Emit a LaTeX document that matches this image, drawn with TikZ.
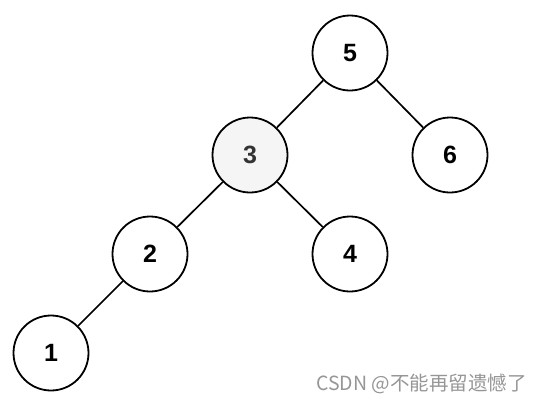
\documentclass[tikz,border=0pt]{standalone}
\usepackage{fontspec}
\setmainfont{Liberation Sans}
\newfontfamily\cjk{Noto Sans CJK SC}
\begin{document}
\begin{tikzpicture}[x=1pt,y=-1pt,
  tnode/.style={circle,draw=black,line width=1.8pt,fill=white,minimum size=75pt,inner sep=0pt,font=\fontsize{25}{25}\selectfont\bfseries},
  edge/.style={line width=1.7pt,black}]
\useasboundingbox (0,0) rectangle (540,402);
\node[tnode] (n5) at (350,53) {5};
\node[tnode,fill={rgb,255:red,245;green,245;blue,245},text={rgb,255:red,51;green,51;blue,51}] (n3) at (250,155) {3};
\node[tnode] (n6) at (450,155) {6};
\node[tnode] (n2) at (150,254) {2};
\node[tnode] (n4) at (350,254) {4};
\node[tnode] (n1) at (51,353) {1};
\draw[edge] (n5) -- (n3);
\draw[edge] (n5) -- (n6);
\draw[edge] (n3) -- (n2);
\draw[edge] (n3) -- (n4);
\draw[edge] (n2) -- (n1);
\node[anchor=base east,text={rgb,255:red,150;green,150;blue,150},font=\cjk\fontsize{19.5}{19.5}\selectfont,inner sep=0pt] (wm) at (527,390) {CSDN @不能再留遗憾了};
\end{tikzpicture}
\end{document}
